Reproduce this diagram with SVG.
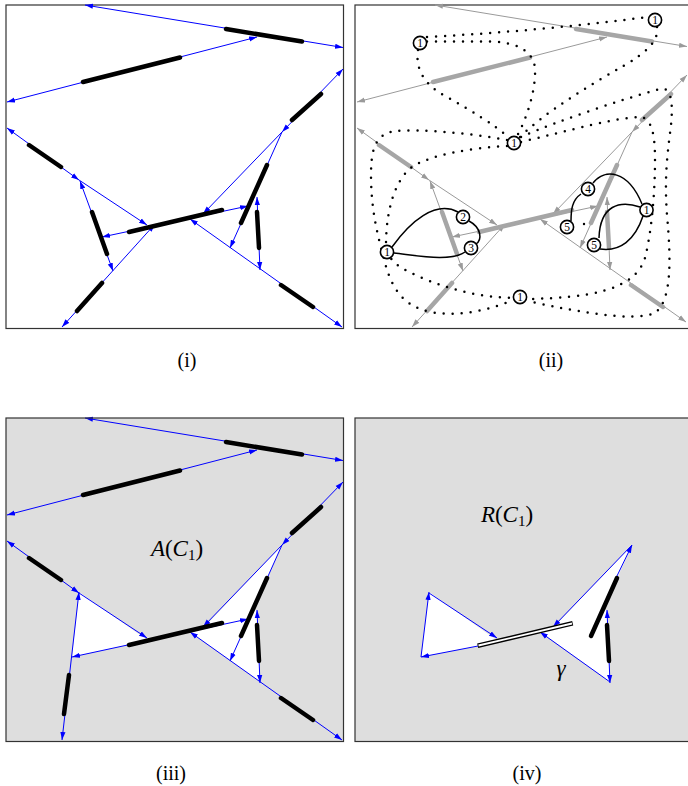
<svg xmlns="http://www.w3.org/2000/svg" width="688" height="786" viewBox="0 0 688 786">
<style>
.fr{fill:none;stroke:#333;stroke-width:1.2}
.bg{fill:#dedede}
.wh{fill:#fff}
.b{fill:none;stroke:#0000ff;stroke-width:1}
.g{fill:none;stroke:#9a9a9a;stroke-width:1}
.b.x2{marker-start:url(#ab);marker-end:url(#ab)}
.b.x1{marker-end:url(#ab)}
.g.x2{marker-start:url(#ag);marker-end:url(#ag)}
.g.x1{marker-end:url(#ag)}
.k{stroke:#000;stroke-width:4.5;stroke-linecap:round}
.gk{stroke:#a6a6a6;stroke-width:4.5;stroke-linecap:round}
.dot{fill:none;stroke:#000;stroke-width:2.5;stroke-linecap:round;stroke-dasharray:0 9}
.sol{fill:none;stroke:#000;stroke-width:1.5}
.nc{fill:#fff;stroke:#000;stroke-width:1.6}
.nt{font-family:"Liberation Serif",serif;font-size:11.5px;text-anchor:middle}
.lab{font-family:"Liberation Serif",serif;font-size:20px;text-anchor:middle}
.m{font-family:"Liberation Serif",serif;font-size:23px;text-anchor:middle}
.i{font-style:italic}
</style>
<defs>
<marker id="ab" viewBox="0 0 8 6" refX="8" refY="3" markerWidth="8" markerHeight="6" markerUnits="userSpaceOnUse" orient="auto-start-reverse"><path d="M0,0.4 L8,3 L0,5.6 z" fill="#0000ff"/></marker>
<marker id="ag" viewBox="0 0 8 6" refX="8" refY="3" markerWidth="8" markerHeight="6" markerUnits="userSpaceOnUse" orient="auto-start-reverse"><path d="M0,0.4 L8,3 L0,5.6 z" fill="#9a9a9a"/></marker>
</defs>
<rect x="0" y="0" width="688" height="786" fill="#fff"/>

<!-- Panel (i) -->
<g id="panel-i">
<rect class="fr" x="6" y="5" width="337.5" height="323.5"/>
<g id="connectors-i">
<path class="b x2" d="M85,5 L343,47.5"/>
<path class="b x2" d="M7,102 L257,37"/>
<path class="b x2" d="M343,69 L282,132"/>
<path class="b x2" d="M7,128 L79,180"/>
<path class="b x1" d="M79,180 L147,225"/>
<path class="b x2" d="M113,271 L80,181"/>
<path class="b x2" d="M62,327 L155,224"/>
<path class="b x2" d="M102,237 L248,206"/>
<path class="b x1" d="M282,132 L203,214"/>
<path class="b x1" d="M282,132 L230,248"/>
<path class="b x2" d="M257,197 L260,270"/>
<path class="b x2" d="M190,219 L342,327"/>
<path class="k" d="M226,29 L302,41.5 M83,82 L180,57.5 M321,94 L292,120 M29,145 L61,167 M92,212 L107,254 M77,311 L102,283 M129,232 L222,210 M267,165 L241,223 M257,212 L259,248 M281,285 L313,307"/>
</g>
<text class="lab" x="187" y="367">(i)</text>
</g>

<!-- Panel (ii) -->
<g id="panel-ii">
<rect class="fr" x="355" y="5" width="345" height="323.5"/>
<g id="connectors-ii-walls" transform="translate(350,0)">
<path class="g x2" d="M85,5 L337,46.5"/>
<path class="g x2" d="M7,102 L257,37"/>
<path class="g x2" d="M337,75 L282,132"/>
<path class="g x2" d="M7,128 L79,180"/>
<path class="g x1" d="M79,180 L147,225"/>
<path class="g x2" d="M113,271 L80,181"/>
<path class="g x2" d="M62,327 L155,224"/>
<path class="g x2" d="M102,237 L248,206"/>
<path class="g x1" d="M282,132 L203,214"/>
<path class="g x1" d="M282,132 L230,248"/>
<path class="g x2" d="M257,197 L260,270"/>
<path class="g x2" d="M190,219 L336,322"/>
<path class="gk" d="M226,29 L302,41.5 M83,82 L180,57.5 M321,94 L292,120 M29,145 L61,167 M92,212 L107,254 M77,311 L102,283 M129,232 L222,210 M267,165 L241,223 M257,212 L259,248 M281,285 L313,307"/>
</g>
<g id="connectors-ii-dotted">
<path class="dot" d="M427,37 Q540,31 648,17"/>
<path class="dot" d="M427,41.5 L495,41.5 C515,43 533,50 535,68 C536,90 527,118 517,136"/>
<path class="dot" d="M418,50 C415,70 425,85 445,96 C470,110 495,125 508,137"/>
<path class="dot" d="M657,27 C659,42 645,53 625,65 C590,85 545,112 520,137"/>
<path class="dot" d="M521,137 C560,120 620,100 660,89 C672,86 673,105 671,125 C668,150 664,175 667,215 C671,260 672,300 655,313 C630,322 580,312 527,301"/>
<path class="dot" d="M521,142 C570,130 620,117 640,117 C652,118 655,135 655,160 C655,190 652,230 645,258 C635,290 590,298 527,299"/>
<path class="dot" d="M507,140 C470,133 420,129 395,131 C375,134 371,150 371,175 C371,205 376,230 383,255 C390,285 400,305 430,312 C460,317 490,310 513,300"/>
<path class="dot" d="M507,146 C470,148 430,155 412,167 C395,180 386,210 386,245 C388,262 400,268 420,277 C450,290 480,297 513,298"/>
<circle cx="584" cy="224" r="1.2" fill="#000"/>
</g>
<g id="connectors-ii-solid">
<path class="sol" d="M392,247 C410,222 435,200 458,212"/>
<path class="sol" d="M469,221 C482,228 482,240 476,244"/>
<path class="sol" d="M394,253 C420,256 450,262 465,252"/>
<path class="sol" d="M581,194 C572,200 571,210 571,221"/>
<path class="sol" d="M593,183 C605,168 628,170 642,204"/>
<path class="sol" d="M640,207 C620,200 600,205 599,238"/>
<path class="sol" d="M643,216 C635,240 620,252 600,249"/>
</g>
<g id="n1a"><circle class="nc" cx="420" cy="43" r="6.6"/><text class="nt" x="420" y="47">1</text></g>
<g id="n1b"><circle class="nc" cx="655" cy="20" r="6.6"/><text class="nt" x="655" y="24">1</text></g>
<g id="n1c"><circle class="nc" cx="514" cy="143" r="6.6"/><text class="nt" x="514" y="147">1</text></g>
<g id="n1d"><circle class="nc" cx="387" cy="252" r="6.6"/><text class="nt" x="387" y="256">1</text></g>
<g id="n2"><circle class="nc" cx="463" cy="217" r="6.6"/><text class="nt" x="463" y="221">2</text></g>
<g id="n3"><circle class="nc" cx="471" cy="248" r="6.6"/><text class="nt" x="471" y="252">3</text></g>
<g id="n4"><circle class="nc" cx="588" cy="189" r="6.6"/><text class="nt" x="588" y="193">4</text></g>
<g id="n5a"><circle class="nc" cx="567" cy="227" r="6.6"/><text class="nt" x="567" y="231">5</text></g>
<g id="n1e"><circle class="nc" cx="646.5" cy="210" r="6.6"/><text class="nt" x="646.5" y="214">1</text></g>
<g id="n5b"><circle class="nc" cx="594" cy="245" r="6.6"/><text class="nt" x="594" y="249">5</text></g>
<g id="n1f"><circle class="nc" cx="520" cy="297" r="6.6"/><text class="nt" x="520" y="301">1</text></g>
<text class="lab" x="551" y="367">(ii)</text>
</g>

<!-- Panel (iii) -->
<g id="panel-iii">
<rect class="bg" x="6" y="418" width="337.5" height="323.5"/>
<g transform="translate(0,413)">
<polygon class="wh" points="79,179 148,227.6 72,244"/>
<polygon class="wh" points="282,132 203,215.5 190,218.7 260,268.7 257,197 253,197"/>
<g id="connectors-iii">
<path class="b x2" d="M85,5 L343,47.5"/>
<path class="b x2" d="M7,102 L257,37"/>
<path class="b x2" d="M343,69 L282,132"/>
<path class="b x2" d="M7,128 L79,180"/>
<path class="b x1" d="M79,180 L147,225"/>
<path class="b x2" d="M79,179 L62,327"/>
<path class="b x2" d="M72,244 L248,206"/>
<path class="b x1" d="M282,132 L203,214"/>
<path class="b x1" d="M282,132 L230,248"/>
<path class="b x2" d="M257,197 L260,270"/>
<path class="b x2" d="M190,219 L342,327"/>
<path class="k" d="M226,29 L302,41.5 M83,82 L180,57.5 M321,94 L292,120 M29,145 L61,167 M69,262 L64,301 M129,232 L222,210 M267,165 L241,223 M257,212 L259,248 M281,285 L313,307"/>
</g>
</g>
<rect class="fr" x="6" y="418" width="337.5" height="323.5"/>
<text class="m" x="177" y="556"><tspan class="i">A</tspan>(<tspan class="i">C</tspan><tspan font-size="15" dy="4">1</tspan><tspan dy="-4">)</tspan></text>
<text class="lab" x="171" y="780">(iii)</text>
</g>

<!-- Panel (iv) -->
<g id="panel-iv">
<rect class="bg" x="355" y="418" width="345" height="323.5"/>
<g transform="translate(350,413)">
<polygon class="wh" points="79,179 148,228 128,233 71,244"/>
<polygon class="wh" points="282,132 203,215 190,218.5 260,269 257,197 253,197"/>
<g id="connectors-iv">
<path class="b x1" d="M71,244 L79,179"/>
<path class="b x1" d="M79,180 L147,225"/>
<path class="b x1" d="M128,233 L71,244"/>
<path class="b x1" d="M282,132 L203,214"/>
<path class="b x1" d="M266,165 L282,132"/>
<path class="b x2" d="M257,197 L260,270"/>
<path class="b x1" d="M260,269 L190,219"/>
<path class="k" d="M267,165 L241,223 M257,212 L259,248"/>
<path d="M127.7,232.7 L222.7,210.3" stroke="#000" stroke-width="4.6" stroke-linecap="butt"/>
<path d="M128.5,232.5 L222,210.5" stroke="#fff" stroke-width="1.8"/>
</g>
</g>
<rect class="fr" x="355" y="418" width="345" height="323.5"/>
<text class="m" x="507" y="522"><tspan class="i">R</tspan>(<tspan class="i">C</tspan><tspan font-size="15" dy="4">1</tspan><tspan dy="-4">)</tspan></text>
<text class="m i" x="561" y="676">γ</text>
<text class="lab" x="527" y="780">(iv)</text>
</g>
</svg>
